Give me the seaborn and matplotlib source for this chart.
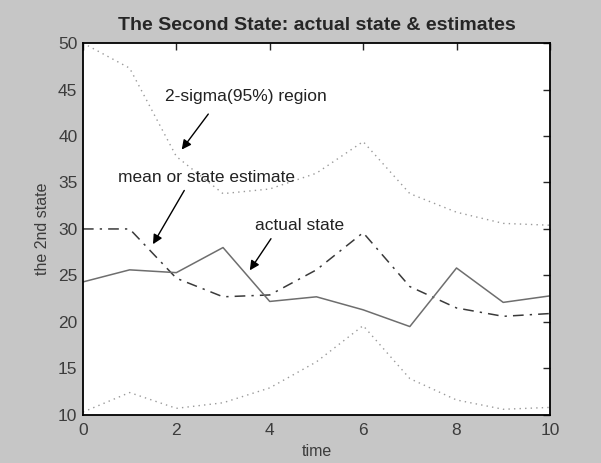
"""Second state of a tracking filter: actual state vs. estimate with 2-sigma band."""
import matplotlib
matplotlib.use("Agg")
import matplotlib.pyplot as plt
import pandas as pd
import seaborn as sns

# values
time = [0, 1, 2, 3, 4, 5, 6, 7, 8, 9, 10]
actual_state = [24.3, 25.6, 25.3, 28.0, 22.2, 22.7, 21.3, 19.5, 25.8, 22.1, 22.8]
state_estimate = [30.0, 30.0, 24.7, 22.7, 22.9, 25.6, 29.6, 23.8, 21.5, 20.6, 20.9]
upper_2sigma = [50.0, 47.3, 37.8, 33.8, 34.3, 36.0, 39.4, 33.8, 31.8, 30.6, 30.4]
lower_2sigma = [10.3, 12.4, 10.7, 11.3, 12.9, 15.7, 19.6, 13.9, 11.6, 10.6, 10.8]

x_ticks = [0, 2, 4, 6, 8, 10]
y_ticks = [10, 15, 20, 25, 30, 35, 40, 45, 50]

sns.set_style("white")
plt.rcParams["font.family"] = ["Liberation Sans", "DejaVu Sans"]

df = pd.DataFrame({
    "time": time,
    "actual": actual_state,
    "estimate": state_estimate,
    "upper": upper_2sigma,
    "lower": lower_2sigma,
})

fig = plt.figure(figsize=(6.01, 4.63), dpi=100, facecolor="#c6c6c6")
ax = fig.add_axes([0.138, 0.104, 0.777, 0.803])
ax.set_facecolor("white")

sns.lineplot(data=df, x="time", y="upper", ax=ax, color="#9a9a9a", lw=1.0, linestyle=(0, (1, 3)))
sns.lineplot(data=df, x="time", y="lower", ax=ax, color="#9a9a9a", lw=1.0, linestyle=(0, (1, 3)))
sns.lineplot(data=df, x="time", y="estimate", ax=ax, color="#3a3a3a", lw=1.1, linestyle=(0, (7, 4, 1.5, 4)))
sns.lineplot(data=df, x="time", y="actual", ax=ax, color="#6e6e6e", lw=1.1)

ax.set_xlim(0, 10)
ax.set_ylim(10, 50)
ax.set_xticks(x_ticks)
ax.set_yticks(y_ticks)
ax.tick_params(direction="in", length=5, width=1, top=True, right=True,
               labelsize=12.5, labelcolor="#3c3c3c")
ax.tick_params(axis="x", pad=6)
ax.tick_params(axis="y", pad=4)
for s in ax.spines.values():
    s.set_color("black")
    s.set_linewidth(1.3)

ax.set_xlabel("time", fontsize=11.5, color="#3c3c3c", labelpad=4)
ax.set_ylabel("the 2nd state", fontsize=11.5, color="#3c3c3c", labelpad=6)
ax.set_title("The Second State: actual state & estimates", fontsize=14,
             fontweight="bold", pad=9.5)

arrow = dict(arrowstyle="-|>", color="black", lw=1.0, mutation_scale=14)
ax.annotate("", xy=(2.08, 38.3), xytext=(2.72, 42.6), arrowprops=arrow)
ax.text(1.76, 44.2, "2-sigma(95%) region", fontsize=12.5, color="#222222", va="center")
ax.annotate("", xy=(1.47, 28.1), xytext=(2.2, 34.4), arrowprops=arrow)
ax.text(0.75, 35.5, "mean or state estimate", fontsize=12.5, color="#222222", va="center")
ax.annotate("", xy=(3.54, 25.3), xytext=(4.06, 29.2), arrowprops=arrow)
ax.text(3.68, 30.4, "actual state", fontsize=12.5, color="#222222", va="center")

fig.savefig("out.png", dpi=100, facecolor=fig.get_facecolor())
